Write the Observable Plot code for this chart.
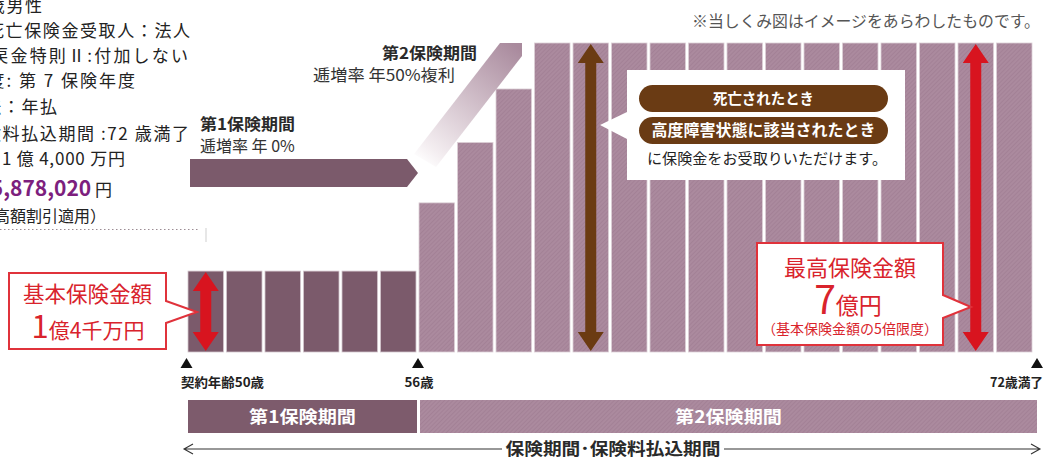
<!DOCTYPE html>
<html lang="ja"><head><meta charset="utf-8">
<script src="https://cdn.jsdelivr.net/npm/d3@7"></script>
<script src="https://cdn.jsdelivr.net/npm/@observablehq/plot@0.6"></script>
<style>
html,body{margin:0;padding:0;background:#fff;}
#chart{width:1043px;height:458px;overflow:hidden;position:relative}
#chart svg{display:block}
</style></head><body><div id="chart"></div>
<script>
// ---- data ----
const ages = [50,51,52,53,54,55,56,57,58,59,60,61,62,63,64,65,66,67,68,69,70,71];
const insuredOku = [1.4,1.4,1.4,1.4,1.4,1.4,2.1,3.15,4.725,7,7,7,7,7,7,7,7,7,7,7,7,7];
const periodOfYear = [1,1,1,1,1,1,2,2,2,2,2,2,2,2,2,2,2,2,2,2,2,2];
const periodNames = ["第1保険期間","第2保険期間"];
const periodFrom = [50,56];
const periodTo = [56,72];
const periodRates = ["逓増率 年 0%","逓増率 年50%複利"];
const milestoneAges = [50,56,72];
const milestoneLabels = ["契約年齢50歳","56歳","72歳満了"];
const arrowAges = [50,60,70];
const arrowAmounts = [1.4,7,7];
const arrowColors = ["#d8141f","#6b3b12","#d8141f"];
const conditionLines = [
  "被保険者：50歳男性",
  "契約者・死亡保険金受取人：法人",
  "低解約返戻金特則Ⅱ:付加しない",
  "計算基準年度: 第 7 保険年度",
  "払込方法：年払",
  "保険料払込期間 :72 歳満了",
  "基本保険金額：1 億 4,000 万円"
];
const premiumLabel = "年払保険料：";
const premiumValue = "5,878,020";
const premiumNote = "（高額割引適用）";

const FONT = "'Noto Sans CJK JP','Noto Sans',sans-serif";
const yFloor = 0.9156;

const bars = ages.map((age, i) => ({age, amount: insuredOku[i], period: periodOfYear[i]}));

const plot = Plot.plot({
  width: 1043, height: 458,
  marginLeft: 188, marginRight: 8, marginTop: 0, marginBottom: 106,
  style: {background: "transparent", fontFamily: FONT},
  x: {type: "linear", domain: [50, 72], axis: null},
  y: {type: "pow", exponent: -0.3, domain: [yFloor, 7], range: [352, 43], axis: null},
  marks: [
    Plot.rect(bars.filter(d => d.period === 1), {
      x1: "age", x2: d => d.age + 1, y1: () => yFloor, y2: "amount",
      insetRight: 3, fill: "#7b5a6b", stroke: "#d3c5cc", strokeWidth: 0.8
    }),
    Plot.rect(bars.filter(d => d.period === 2), {
      x1: "age", x2: d => d.age + 1, y1: () => yFloor, y2: "amount",
      insetRight: 3, fill: "url(#hatch2)", stroke: "#dcd0d6", strokeWidth: 0.8
    })
  ]
});
document.getElementById("chart").append(plot);

const X = plot.scale("x"), Y = plot.scale("y");
const xs = v => X.apply(v);
const ys = v => Y.apply(v);

const svg = d3.select(plot);
const defs = svg.insert("defs", ":first-child");
const pat = defs.append("pattern").attr("id", "hatch2").attr("patternUnits", "userSpaceOnUse")
  .attr("width", 3).attr("height", 3).attr("patternTransform", "rotate(45)");
pat.append("rect").attr("width", 3).attr("height", 3).attr("fill", "#ab8a9e");
pat.append("rect").attr("width", 1).attr("height", 3).attr("fill", "#a38196");
const grad = defs.append("linearGradient").attr("id", "band").attr("gradientUnits", "userSpaceOnUse")
  .attr("x1", 420).attr("y1", 163).attr("x2", 515).attr("y2", 45);
grad.append("stop").attr("offset", 0).attr("stop-color", "#ffffff");
grad.append("stop").attr("offset", 0.12).attr("stop-color", "#f4eef1");
grad.append("stop").attr("offset", 1).attr("stop-color", "#a98a9d");

const layer = svg.append("g").attr("font-family", FONT);

function label(s, x, y, opt = {}) {
  const t = layer.append("text").attr("x", x).attr("y", y)
    .attr("font-size", opt.size ?? 16).attr("font-weight", opt.weight ?? 400)
    .attr("fill", opt.fill ?? "#222").attr("text-anchor", opt.anchor ?? "start");
  if (opt.ls) t.attr("letter-spacing", opt.ls);
  if (opt.len) t.attr("textLength", opt.len).attr("lengthAdjust", "spacingAndGlyphs");
  if (Array.isArray(s)) s.forEach(p => {
    const ts = t.append("tspan").text(p.t);
    if (p.size) ts.attr("font-size", p.size);
    if (p.weight) ts.attr("font-weight", p.weight);
    if (p.fill) ts.attr("fill", p.fill);
  });
  else t.text(s);
  return t;
}

function blockArrow(cx, top, bot, w = 11, hw = 26, hl = 19) {
  return `M${cx},${top}L${cx+hw/2},${top+hl}L${cx+w/2},${top+hl}L${cx+w/2},${bot-hl}L${cx+hw/2},${bot-hl}L${cx},${bot}L${cx-hw/2},${bot-hl}L${cx-w/2},${bot-hl}L${cx-w/2},${top+hl}L${cx-hw/2},${top+hl}Z`;
}

// arrows on bars
arrowAges.forEach((a, i) => {
  const cx = xs(a) + (xs(a + 1) - xs(a) - 3) / 2;
  const top = ys(arrowAmounts[i]) + 1;
  const bot = ys(yFloor) - 1;
  layer.append("path").attr("d", blockArrow(cx, top, bot, 11, 26, 19)).attr("fill", arrowColors[i]);
});

// stage 1 arrow (pentagon)
const p0 = xs(periodFrom[0]) + 2, p1 = xs(periodTo[0]) - 1;
layer.append("path").attr("d", `M${p0},159L${p1-11},159L${p1},173L${p1-11},187L${p0},187Z`).attr("fill", "#7b5a6b");
// stage 2 gradient band
layer.append("path").attr("d", "M500,43L522,43L522,56L436,167L414,154Z").attr("fill", "url(#band)");

label(periodNames[0], 200, 130, {size: 16, weight: 700, fill: "#2a2a2a", len: 95});
label(periodRates[0], 200, 152, {size: 16, fill: "#333"});
label(periodNames[1], 382, 59, {size: 16, weight: 700, fill: "#2a2a2a", len: 95});
label(periodRates[1], 313, 81, {size: 16, fill: "#333", len: 142});

// death / disability callout
layer.append("path").attr("d", "M627,70H905V180H627V139L600,125L627,112Z").attr("fill", "#fff");
layer.append("rect").attr("x", 639).attr("y", 85).attr("width", 249).attr("height", 27).attr("rx", 13.5).attr("fill", "#6a3b14");
layer.append("rect").attr("x", 639).attr("y", 117).attr("width", 249).attr("height", 27).attr("rx", 13.5).attr("fill", "#6a3b14");
label("死亡されたとき", 763.5, 104, {size: 15, weight: 700, fill: "#fff", anchor: "middle", len: 101});
label("高度障害状態に該当されたとき", 763.5, 136, {size: 16, weight: 700, fill: "#fff", anchor: "middle", len: 224});
label("に保険金をお受取りいただけます。", 647, 164, {size: 15, fill: "#222", len: 240});

// base amount callout
layer.append("path").attr("d", "M9,273H166V301L197,312L166,323V349H9Z").attr("fill", "#fff").attr("stroke", "#e0323b").attr("stroke-width", 2);
label("基本保険金額", 87.5, 302, {size: 21.5, fill: "#d9232c", anchor: "middle"});
label([{t: "1", size: 31}, {t: "億4千万円", size: 21}], 88, 338, {fill: "#d9232c", anchor: "middle"});

// max amount callout
layer.append("path").attr("d", "M757,243H943V295L971,307L943,318V345H757Z").attr("fill", "#fff").attr("stroke", "#e0323b").attr("stroke-width", 2);
label("最高保険金額", 850, 276, {size: 22, fill: "#d9232c", anchor: "middle"});
label([{t: "7", size: 39}, {t: "億円", size: 23}], 848, 314, {fill: "#d9232c", anchor: "middle"});
label("（基本保険金額の5倍限度）", 850, 334, {size: 14, fill: "#d9232c", anchor: "middle"});

// milestones
const triOff = [-1.5, -1, 2];
milestoneAges.forEach((a, i) => {
  const tx = xs(a) + triOff[i];
  layer.append("path").attr("d", `M${tx-6},368L${tx},358L${tx+6},368Z`).attr("fill", "#111");
});
label(milestoneLabels[0], xs(milestoneAges[0]) - 7, 387, {size: 13, weight: 700, len: 83});
label(milestoneLabels[1], xs(milestoneAges[1]), 387, {size: 13, weight: 700, anchor: "middle", len: 29});
label(milestoneLabels[2], xs(milestoneAges[2]) + 8, 387, {size: 13, weight: 700, anchor: "end", len: 53});

// period boxes
const boxX = [[xs(periodFrom[0]), xs(periodTo[0]) - 2], [xs(periodFrom[1]) + 1, xs(periodTo[1]) + 2]];
const boxFill = ["#7d5b6c", "url(#hatch2)"];
boxX.forEach(([a, b], i) => {
  layer.append("rect").attr("x", a).attr("y", 400).attr("width", b - a).attr("height", 33).attr("fill", boxFill[i]);
  label(periodNames[i], (a + b) / 2, 423, {size: 17, weight: 700, fill: "#fff", anchor: "middle", len: 107});
});

// bottom span arrow
const bx0 = xs(periodFrom[0]) - 4, bx1 = xs(periodTo[1]) + 5;
layer.append("path").attr("d", `M${bx0},449H502M724,449H${bx1}M${bx0+9},444L${bx0},449L${bx0+9},454M${bx1-9},444L${bx1},449L${bx1-9},454`)
  .attr("fill", "none").attr("stroke", "#333").attr("stroke-width", 1.1);
label("保険期間･保険料払込期間", 613, 455, {size: 17, weight: 700, fill: "#2a2a2a", anchor: "middle", len: 215});

// note
label("※当しくみ図はイメージをあらわしたものです。", 1040, 27, {size: 15.8, fill: "#555", anchor: "end", len: 348});

// left condition block (clipped at the left edge)
const lineEnds = [42, 190, 188, 135, 57, 189, 125];
const lineBase = [12, 37, 62, 87, 113, 140, 165];
const lineLs = [1.6, 1.6, 2.2, 2.0, 1.6, 1.6, 0.8];
conditionLines.forEach((s, i) => label(s, lineEnds[i] + lineLs[i], lineBase[i], {size: 17, ls: lineLs[i], anchor: "end", fill: "#222"}));
label([{t: premiumLabel, size: 17}, {t: premiumValue, size: 21, weight: 700, fill: "#7d1f7e"}, {t: " 円", size: 17}], 112, 196, {anchor: "end", fill: "#222"});
label(premiumNote, 106, 222, {size: 16, anchor: "end", fill: "#222"});
layer.append("line").attr("x1", 0).attr("x2", 200).attr("y1", 229.5).attr("y2", 229.5)
  .attr("stroke", "#9c8c94").attr("stroke-width", 1).attr("stroke-dasharray", "1.5,2.5");
layer.append("line").attr("x1", 206).attr("x2", 206).attr("y1", 228).attr("y2", 242)
  .attr("stroke", "#cfcfcf").attr("stroke-width", 1);
</script></body></html>
